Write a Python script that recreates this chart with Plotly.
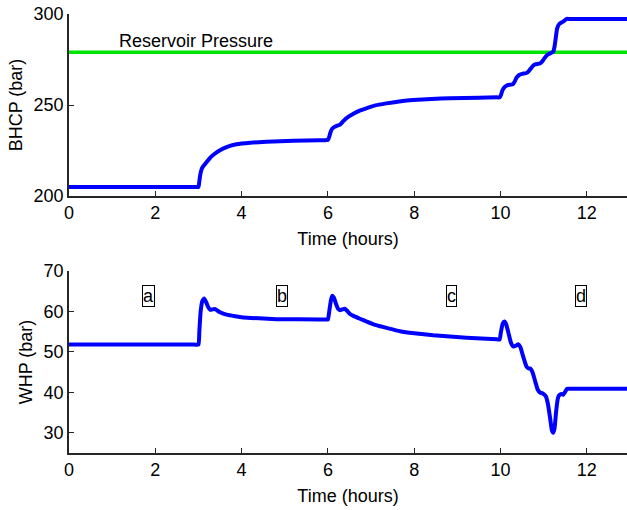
import plotly.graph_objects as go
from plotly.subplots import make_subplots

# ---- data ----
bhcp_t = [0, 1, 2, 2.9, 3.0, 3.02, 3.04, 3.07, 3.1, 3.15, 3.2, 3.27, 3.34, 3.42, 3.5, 3.65, 3.8, 4.0,
          4.2, 4.58, 5.2, 5.81, 5.95, 6.0, 6.03, 6.06, 6.1, 6.15, 6.2, 6.28, 6.35, 6.43, 6.6, 6.75,
          6.89, 7.1, 7.35, 7.65, 7.97, 8.4, 8.83, 9.5, 9.92, 9.98, 10.01, 10.04, 10.08, 10.13,
          10.18, 10.29, 10.33, 10.37, 10.43, 10.5, 10.6, 10.65, 10.7, 10.75, 10.8, 10.91,
          10.96, 11.01, 11.08, 11.22, 11.25, 11.28, 11.31, 11.36, 11.45, 11.53, 11.6, 12, 13]
bhcp_v = [205, 205, 205, 205, 205, 208, 211.5, 214.5, 216, 217.5, 219, 221, 222.5, 224, 225.2,
          226.8, 228, 228.8, 229.3, 229.8, 230.3, 230.6, 230.7, 230.8, 232.5, 235, 237, 238, 238.5,
          239.2, 241, 242.8, 245.3, 247, 248.2, 249.8, 250.9, 251.9, 252.7, 253.3, 253.7,
          254.0, 254.2, 254.2, 255.5, 257.8, 259.5, 260.5, 261, 261.5, 263, 265, 266.5, 267.1,
          267.6, 268.5, 270, 271.5, 272.3, 272.8, 273.8, 275.5, 277.5, 279.3, 282, 287,
          292, 294.5, 295.8, 297.3, 297.3, 297.3, 297.3]

res_t = [0, 13]
res_v = [279, 279]

whp_t = [0, 1, 2, 2.9, 3.0, 3.02, 3.05, 3.09, 3.13, 3.17, 3.22, 3.27, 3.32, 3.38, 3.44, 3.5,
         3.65, 3.85, 4.04, 4.4, 4.81, 5.81, 5.95, 6.0, 6.03, 6.07, 6.1, 6.14, 6.19, 6.24, 6.28,
         6.33, 6.39, 6.45, 6.52, 6.59, 6.74, 6.9, 7.12, 7.4, 7.67, 8.0, 8.44, 9.21, 9.92, 9.98,
         10.01, 10.05, 10.09, 10.13, 10.18, 10.24, 10.3, 10.35, 10.41, 10.46, 10.52, 10.6,
         10.65, 10.69, 10.74, 10.8, 10.86, 10.91, 10.98, 11.05, 11.1, 11.15, 11.19, 11.22,
         11.25, 11.29, 11.33, 11.36, 11.41, 11.45, 11.49, 11.54, 11.6, 12, 13]
whp_v = [51.8, 51.8, 51.8, 51.8, 51.8, 55, 60, 62.6, 63.2, 62.5, 61.2, 60.4, 60.5, 60.6, 60.2,
         59.8, 59.2, 58.8, 58.5, 58.3, 58.1, 58.0, 58.0, 58.0, 60, 62.8, 63.9, 63.4, 61.8, 60.6,
         60.3, 60.5, 60.7, 60.1, 59.3, 58.9, 58.2, 57.5, 56.6, 55.8, 55.1, 54.6, 54.1,
         53.5, 53.1, 53.1, 55, 57, 57.5, 56.8, 54.8, 52.3, 51.3, 51.5, 51.9, 51.2, 49, 46.4,
         45.9, 45.9, 45, 42.8, 40.7, 40.0, 39.7, 39.0, 37, 33.5, 30.6, 30.0, 31, 35.5, 38.6,
         39.3, 39.6, 39.4, 40.0, 40.9, 40.9, 40.9, 40.9]

label_t = [1.85, 4.93, 8.86, 11.86]
label_txt = ["a", "b", "c", "d"]
label_y = 63.8

x_ticks = [0, 2, 4, 6, 8, 10, 12]
top_ticks = [200, 250, 300]
bot_ticks = [30, 40, 50, 60, 70]

FONT = "Liberation Sans, Arial, Helvetica, sans-serif"
AX = "#262626"

fig = make_subplots(rows=2, cols=1)
fig.add_trace(go.Scatter(x=res_t, y=res_v, mode="lines",
                         line=dict(color="#00e600", width=3.5)), row=1, col=1)
fig.add_trace(go.Scatter(x=bhcp_t, y=bhcp_v, mode="lines",
                         line=dict(color="#0000ff", width=4, shape="spline", smoothing=0.4)),
              row=1, col=1)
fig.add_trace(go.Scatter(x=whp_t, y=whp_v, mode="lines",
                         line=dict(color="#0000ff", width=4, shape="spline", smoothing=0.4)),
              row=2, col=1)

fig.add_annotation(x=2.95, y=285.3, xref="x", yref="y", text="Reservoir Pressure",
                   showarrow=False, font=dict(size=18, color="black", family=FONT))
for t, s in zip(label_t, label_txt):
    fig.add_annotation(x=t, y=label_y, xref="x2", yref="y2", text=s, showarrow=False,
                       font=dict(size=18, color="black", family=FONT),
                       bordercolor="black", borderwidth=1, borderpad=0)

common_x = dict(range=[0, 12.93], tickvals=x_ticks, ticks="inside", ticklen=5,
                tickcolor=AX, showline=True, linecolor=AX, linewidth=1.5,
                showgrid=False, zeroline=False, mirror=False,
                tickfont=dict(size=18, color="black", family=FONT),
                title=dict(text="Time (hours)", font=dict(size=18, color="black", family=FONT),
                           standoff=10))
fig.update_xaxes(**common_x, domain=[0, 1])
fig.update_layout(
    xaxis=dict(anchor="y"), xaxis2=dict(anchor="y2"),
    yaxis=dict(domain=[1 - 196 / 510, 1 - 14 / 510], range=[200, 300], tickvals=top_ticks),
    yaxis2=dict(domain=[1 - 453 / 510, 1 - 271 / 510], range=[25, 70], tickvals=bot_ticks),
)
fig.update_yaxes(ticks="inside", ticklen=5, tickcolor=AX, showline=True, linecolor=AX,
                 linewidth=1.5, showgrid=False, zeroline=False,
                 tickfont=dict(size=18, color="black", family=FONT))
fig.update_yaxes(title=dict(text="BHCP (bar)", font=dict(size=18, color="black", family=FONT),
                            standoff=6), row=1, col=1)
fig.update_yaxes(title=dict(text="WHP (bar)", font=dict(size=18, color="black", family=FONT),
                            standoff=6), row=2, col=1)

fig.update_layout(width=627, height=510, showlegend=False,
                  margin=dict(l=69, r=0, t=0, b=0, autoexpand=False),
                  paper_bgcolor="white", plot_bgcolor="white",
                  font=dict(family=FONT, color="black"))

fig.write_html("out.html")
